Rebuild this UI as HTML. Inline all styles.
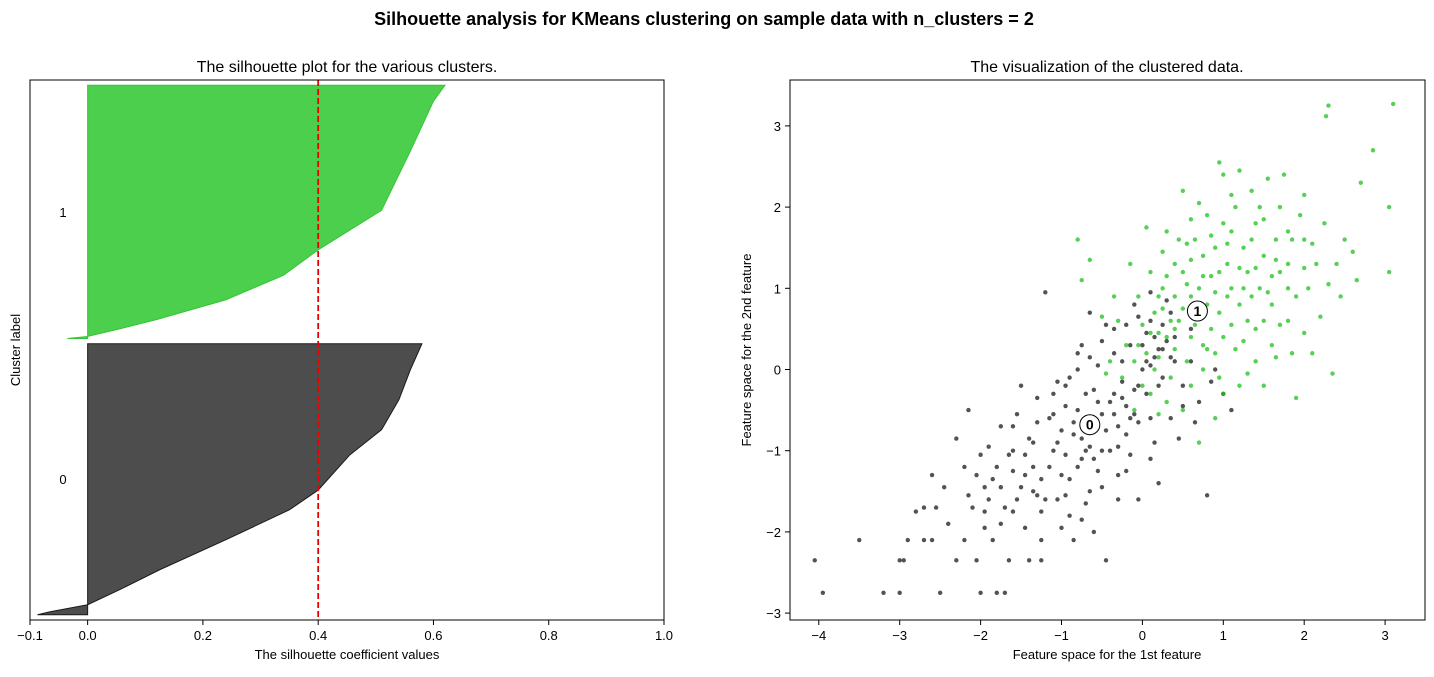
<!DOCTYPE html>
<html><head><meta charset="utf-8"><style>
body{margin:0;background:#fff;}
svg text{font-family:"Liberation Sans","DejaVu Sans",sans-serif;}
</style></head><body>
<svg id="fig" width="1434" height="672" xmlns="http://www.w3.org/2000/svg">
<text x="704" y="25" text-anchor="middle" font-size="18" font-weight="bold">Silhouette analysis for KMeans clustering on sample data with n_clusters = 2</text>
<g id="left"></g>
<g id="right"></g>
</svg>
<script>
// ---- data ----
const clusterSizes = [517, 483];
const sil0Frac = [0, 0.011, 0.037, 0.092, 0.166, 0.277, 0.387, 0.46, 0.59, 0.683, 0.793, 0.904, 1];
const sil0Vals = [-0.087, -0.065, 0, 0.055, 0.125, 0.24, 0.35, 0.40, 0.455, 0.51, 0.54, 0.56, 0.58];
const sil1Frac = [0, 0.008, 0.035, 0.075, 0.153, 0.25, 0.35, 0.506, 0.6, 0.74, 0.937, 1];
const sil1Vals = [-0.035, 0, 0.05, 0.12, 0.24, 0.34, 0.40, 0.51, 0.53, 0.56, 0.60, 0.62];
const silAvg = 0.40;
const leftXTicks = [-0.1, 0, 0.2, 0.4, 0.6, 0.8, 1.0];
const leftXLabels = ["−0.1", "0.0", "0.2", "0.4", "0.6", "0.8", "1.0"];
const rightXTicks = [-4, -3, -2, -1, 0, 1, 2, 3];
const rightYTicks = [-3, -2, -1, 0, 1, 2, 3];
const centers = [[-0.65, -0.68], [0.68, 0.72]];
const pts0 = [[-3.95,-2.75],[-4.05,-2.35],[-3.5,-2.1],[-3.2,-2.75],[-3.0,-2.75],[-2.9,-2.1],[-2.95,-2.35],[-2.7,-1.7],[-2.6,-2.1],[-2.5,-2.75],[-2.45,-1.45],[-2.3,-0.85],[-2.2,-1.2],[-2.1,-1.7],[-2.05,-2.35],[-2.0,-2.75],[-1.95,-1.45],[-1.9,-0.95],[-1.85,-2.1],[-1.8,-1.2],[-1.75,-0.7],[-1.7,-1.7],[-1.65,-2.35],[-1.6,-1.0],[-1.55,-0.55],[-1.5,-1.45],[-1.45,-1.95],[-1.4,-0.85],[-1.35,-1.2],[-1.3,-0.35],[-1.25,-2.1],[-1.2,-1.6],[-1.15,-0.6],[-1.1,-1.0],[-1.05,-0.15],[-1.0,-1.3],[-0.95,-0.45],[-0.9,-1.8],[-0.85,-0.8],[-0.8,0.2],[-0.75,-1.1],[-0.7,-0.3],[-0.65,-1.5],[-0.6,-0.7],[-0.55,0.05],[-0.5,-1.0],[-0.45,-2.35],[-0.4,-0.4],[-0.35,0.5],[-0.3,-1.3],[-0.25,-0.15],[-0.2,-0.8],[-0.15,0.3],[-0.1,-0.55],[-0.05,-1.6],[0.0,0.0],[0.05,-0.3],[0.1,0.6],[0.15,-0.9],[0.2,0.25],[0.25,-0.1],[0.3,0.85],[0.35,-0.6],[0.4,0.4],[0.5,-0.2],[0.6,0.1],[0.7,-0.4],[0.8,-1.55],[0.9,0.0],[1.0,-0.3],[1.1,-0.5],[-1.2,0.95],[-0.75,0.3],[-1.5,-0.2],[-2.6,-1.3],[-1.9,-1.6],[-1.0,-1.95],[-0.7,-1.65],[-1.3,-1.55],[-1.6,-1.25],[-0.2,-1.25],[0.2,-1.4],[-0.9,-0.1],[-0.45,0.55],[-0.1,0.8],[0.05,0.45],[0.25,0.55],[-0.6,-0.25],[-1.1,-0.3],[-2.0,-1.05],[-1.75,-1.45],[-1.4,-2.35],[-2.3,-2.35],[-1.8,-2.75],[-1.7,-2.75],[-2.4,-1.9],[-0.3,-0.95],[0.45,-0.85],[-0.05,-0.65],[0.6,0.5],[-0.55,-1.25],[-0.95,-1.55],[-1.35,-0.9],[-0.8,-0.5],[-0.25,0.1],[0.15,0.15],[-0.65,0.7],[-0.35,-0.3],[0.35,0.15],[-1.6,-0.7],[-2.15,-0.5],[-1.25,-1.75],[-0.85,-2.1],[-0.15,-1.05],[0.1,-0.6],[-0.5,-0.55],[-1.0,-0.75],[-1.45,-1.05],[-1.95,-1.95],[-2.7,-2.1],[-3.0,-2.35],[-2.55,-1.7],
[-1.15,-1.2],[-1.05,-0.9],[-0.95,-1.05],[-0.85,-0.65],[-0.75,-0.85],[-0.65,-0.95],[-0.55,-0.4],[-0.45,-0.75],[-0.35,-0.55],[-0.25,-0.35],[-0.15,-0.6],[-0.05,-0.2],[0.05,0.1],[0.15,0.4],[0.25,0.25],[0.35,0.7],[-1.25,-1.35],[-1.35,-1.5],[-1.45,-1.3],[-1.55,-1.6],[-1.65,-1.05],[-1.75,-1.9],[-1.85,-1.35],[-1.95,-1.75],[-2.05,-1.3],[-2.15,-1.55],[-0.9,-1.35],[-0.8,-1.2],[-0.7,-1.0],[-0.6,-1.1],[-0.5,-1.45],[-0.4,-1.0],[-0.3,-0.7],[-0.2,-0.45],[-0.1,-0.25],[0.0,0.3],[0.1,0.05],[0.2,-0.2],[0.3,0.35],[0.4,0.1],[-1.1,-0.55],[-0.95,-0.2],[-0.8,0.0],[-0.65,0.15],[-0.5,0.35],[-0.35,0.2],[-0.2,0.55],[-0.05,0.65],[0.1,0.95],[-1.3,-0.65],[-1.6,-1.75],[-2.2,-2.1],[-1.25,-2.35],[-0.75,-1.85],[-0.3,-1.6],[0.1,-1.1],[0.5,-0.45],[0.65,-0.65],[0.85,-0.15],[-2.8,-1.75],[-1.05,-1.6],[-0.6,-2.0]];
const pts1 = [[0.7,0.75],[0.3,0.4],[0.5,1.2],[0.9,1.5],[1.1,1.0],[1.3,0.6],[1.5,1.4],[1.7,2.0],[2.0,1.6],[2.3,3.25],[2.27,3.12],[3.1,3.27],[3.05,2.0],[3.05,1.2],[2.85,2.7],[2.7,2.3],[2.6,1.45],[2.4,1.3],[2.2,0.65],[2.0,0.45],[1.8,1.0],[1.6,0.3],[1.4,1.8],[1.2,2.45],[1.0,2.4],[0.8,1.9],[0.6,0.4],[0.4,0.9],[0.2,0.15],[0.0,0.55],[-0.2,0.3],[-0.4,0.1],[-0.5,0.65],[-0.75,1.1],[-0.8,1.6],[-0.65,1.35],[0.1,1.2],[0.3,1.7],[0.5,2.2],[0.7,1.0],[0.9,0.2],[1.0,-0.3],[1.2,-0.2],[1.4,0.1],[1.6,0.8],[1.8,1.3],[2.0,2.15],[1.9,0.9],[1.7,0.55],[1.5,-0.2],[1.3,1.2],[1.1,1.7],[0.95,1.2],[0.75,1.4],[0.55,0.1],[0.35,-0.1],[0.15,0.7],[-0.05,0.9],[-0.25,-0.1],[-0.1,-0.5],[0.1,-0.3],[0.25,1.0],[0.45,0.6],[0.65,1.6],[0.85,0.5],[1.05,0.9],[1.25,1.5],[1.45,1.0],[1.65,1.6],[1.85,0.2],[2.05,1.0],[2.25,1.8],[2.45,0.9],[2.65,1.1],[1.35,2.2],[1.55,2.35],[1.15,2.0],[0.95,2.55],[0.6,1.85],[0.4,1.3],[0.2,0.9],[0.05,1.75],[-0.15,1.3],[-0.3,0.6],[-0.45,-0.05],[0.5,-0.5],[0.7,-0.9],[0.9,-0.6],[0.3,-0.4],[0.0,-0.2],[0.8,0.8],[1.0,0.4],[1.2,0.8],[1.4,0.5],[0.6,0.9],[0.4,0.5],[0.55,1.05],[0.75,0.3],[1.05,1.3],[1.25,0.35],[1.9,-0.35],[2.35,-0.05],[1.75,2.4],[0.25,1.45],[-0.35,0.9],[0.15,0.0],[1.6,1.15],[2.15,1.3],[1.35,0.9],[0.85,1.15],
[0.65,0.55],[0.8,0.25],[0.95,0.7],[1.1,0.55],[1.25,1.0],[1.4,1.25],[1.55,0.95],[1.7,1.2],[1.85,1.6],[2.0,1.25],[0.5,0.75],[0.35,0.6],[0.2,0.45],[0.05,0.2],[-0.1,0.1],[0.45,1.6],[0.6,1.35],[0.75,1.15],[0.9,0.95],[1.05,1.55],[1.2,1.25],[1.35,1.6],[1.5,1.85],[1.65,1.35],[1.8,1.7],[1.95,1.9],[2.1,1.55],[2.3,1.05],[2.5,1.6],[1.0,1.8],[0.85,1.65],[0.7,2.05],[0.55,1.55],[0.4,0.25],[0.25,0.75],[0.1,0.45],[0.6,-0.2],[0.75,0.0],[0.95,-0.1],[1.15,0.25],[1.3,-0.05],[1.5,0.6],[1.65,0.15],[1.8,0.6],[2.1,0.2],[0.2,-0.55],[-0.05,0.3],[1.45,2.0],[1.1,2.15],[0.3,1.15]];

const NS = "http://www.w3.org/2000/svg";
function mk(parent, tag, attrs, text) {
  const e = document.createElementNS(NS, tag);
  for (const k in attrs) e.setAttribute(k, attrs[k]);
  if (text !== undefined) e.textContent = text;
  parent.appendChild(e);
  return e;
}
// ---- left axes ----
const L = document.getElementById('left');
const lx = v => 30 + (v + 0.1) / 1.1 * 634;
const total = clusterSizes[0] + clusterSizes[1] + 30;
const ly = v => 620 - v / total * 540;
let yLower = 10;
const sils = [[sil0Frac, sil0Vals, '#4d4d4d', '#1a1a1a'], [sil1Frac, sil1Vals, '#4ccf4c', '#33c633']];
sils.forEach((s, i) => {
  const n = clusterSizes[i];
  let d = `M${lx(0)},${ly(yLower)}`;
  s[0].forEach((f, j) => { d += ` L${lx(s[1][j])},${ly(yLower + f * n)}`; });
  d += ` L${lx(0)},${ly(yLower + n)} Z`;
  const p = mk(L, 'path', {d: d, fill: s[2], stroke: s[3], 'stroke-width': 1});
  
  
  const t = mk(L, 'text', {x: 63, y: ly(yLower + n / 2) + 5, 'text-anchor': 'middle', 'font-size': 13}, String(i));
  
  
  yLower += n + 10;
});
const avg = mk(L, 'line', {x1: lx(silAvg), x2: lx(silAvg), y1: 80, y2: 620, stroke: '#e00', 'stroke-width': 1.8, 'stroke-dasharray': '6,3'});


const lf = mk(L, 'rect', {x: 30, y: 80, width: 634, height: 540, fill: 'none', stroke: '#000', 'stroke-width': 1});


leftXTicks.forEach((v, i) => {
  mk(L, 'line', {x1: lx(v), x2: lx(v), y1: 620, y2: 625, stroke: '#000'});
  const t = mk(L, 'text', {x: lx(v), y: 640, 'text-anchor': 'middle', 'font-size': 13}, leftXLabels[i]);
  
  
});
let t;
t = mk(L, 'text', {x: 347, y: 72, 'text-anchor': 'middle', 'font-size': 16}, 'The silhouette plot for the various clusters.');
 
t = mk(L, 'text', {x: 347, y: 659, 'text-anchor': 'middle', 'font-size': 13}, 'The silhouette coefficient values');
 
t = mk(L, 'text', {x: 20, y: 350, 'text-anchor': 'middle', 'font-size': 13, transform: 'rotate(-90 20 350)'}, 'Cluster label');
 

// ---- right axes ----
const R = document.getElementById('right');
const rx = v => 1142.4 + v * 80.9;
const ry = v => 369.5 - v * 81.2;
[[pts0, '#1a1a1a'], [pts1, '#1ec21e']].forEach((s, i) => {
  s[0].forEach(p => {
    const c = mk(R, 'circle', {cx: rx(p[0]), cy: ry(p[1]), r: 2.2, fill: s[1], 'fill-opacity': 0.75});
    
    
  });
});
centers.forEach((c, i) => {
  const cc = mk(R, 'circle', {cx: rx(c[0]), cy: ry(c[1]), r: 10, fill: '#fff', stroke: '#000', 'stroke-width': 1});
  
  
  const ct = mk(R, 'text', {x: rx(c[0]), y: ry(c[1]) + 5, 'text-anchor': 'middle', 'font-size': 14, 'font-weight': 'bold'}, String(i));
  
  
});
const rf = mk(R, 'rect', {x: 790, y: 80, width: 635, height: 540, fill: 'none', stroke: '#000', 'stroke-width': 1});


rightXTicks.forEach(v => {
  mk(R, 'line', {x1: rx(v), x2: rx(v), y1: 620, y2: 625, stroke: '#000'});
  const tt = mk(R, 'text', {x: rx(v), y: 640, 'text-anchor': 'middle', 'font-size': 13}, v < 0 ? '−' + (-v) : String(v));
  
  
});
rightYTicks.forEach(v => {
  mk(R, 'line', {x1: 785, x2: 790, y1: ry(v), y2: ry(v), stroke: '#000'});
  const tt = mk(R, 'text', {x: 781, y: ry(v) + 5, 'text-anchor': 'end', 'font-size': 13}, v < 0 ? '−' + (-v) : String(v));
  
  
});
t = mk(R, 'text', {x: 1107, y: 72, 'text-anchor': 'middle', 'font-size': 16}, 'The visualization of the clustered data.');
 
t = mk(R, 'text', {x: 1107, y: 659, 'text-anchor': 'middle', 'font-size': 13}, 'Feature space for the 1st feature');
 
t = mk(R, 'text', {x: 751, y: 350, 'text-anchor': 'middle', 'font-size': 13, transform: 'rotate(-90 751 350)'}, 'Feature space for the 2nd feature');
 
</script>
</body></html>
